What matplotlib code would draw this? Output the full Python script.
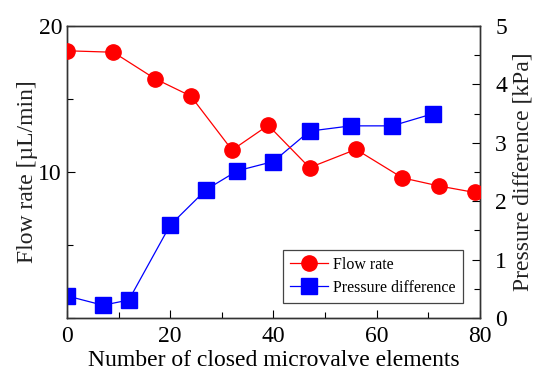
import matplotlib
matplotlib.use('Agg')
import matplotlib.pyplot as plt
from matplotlib.ticker import MultipleLocator

plt.rcParams['font.family'] = ['Liberation Serif', 'DejaVu Serif']

# flow rate (left axis)
flow_x = [0, 9, 17, 24, 32, 39, 47, 56, 65, 72, 79]
flow_y = [18.3, 18.2, 16.4, 15.2, 11.5, 13.2, 10.3, 11.55, 9.6, 9.05, 8.6]

# pressure difference (right axis)
pres_x = [0, 7, 12, 20, 27, 33, 40, 47, 55, 63, 71]
pres_y = [0.38, 0.22, 0.31, 1.59, 2.20, 2.52, 2.68, 3.20, 3.29, 3.29, 3.50]

fig = plt.figure(figsize=(5.35, 3.76), dpi=100)
ax1 = fig.add_axes([0.125, 0.154, 0.772, 0.777])
ax2 = ax1.twinx()

l1, = ax1.plot(flow_x, flow_y, '-o', color='#ff0000', linewidth=0.9,
               markersize=11, label='Flow rate', zorder=3)
l2, = ax2.plot(pres_x, pres_y, '-s', color='#0000ff', linewidth=0.9,
               markersize=11, label='Pressure difference', zorder=3)

ax1.set_xlim(0, 80)
ax1.set_ylim(0, 20)
ax2.set_ylim(0, 5)

ax1.set_xticks([0, 20, 40, 60, 80])
ax1.xaxis.set_minor_locator(MultipleLocator(10))
ax1.set_yticks([0, 10, 20])
ax1.set_yticklabels(['', '10', '20'])
ax1.yaxis.set_minor_locator(MultipleLocator(5))
ax2.set_yticks([0, 1, 2, 3, 4, 5])
ax2.yaxis.set_minor_locator(MultipleLocator(0.5))

for ax in (ax1, ax2):
    ax.tick_params(which='major', direction='in', length=6, width=0.8, labelsize=17)
    ax.tick_params(which='minor', direction='in', length=4, width=0.8)
    for s in ax.spines.values():
        s.set_linewidth(1.0)
        s.set_color('#333333')
ax1.tick_params(axis='y', which='both', right=False)
ax1.tick_params(axis='x', which='both', top=False, pad=6)
ax2.tick_params(axis='y', which='both', left=False, pad=11)

ax1.set_xlabel('Number of closed microvalve elements', fontsize=17, labelpad=2)
ax1.set_ylabel('Flow rate [µL/min]', fontsize=17, labelpad=0, color='#222222')
ax2.set_ylabel('Pressure difference [kPa]', fontsize=17, labelpad=4, color='#222222')

leg = ax1.legend(handles=[l1, l2], loc='lower right', bbox_to_anchor=(0.959, 0.051),
                 borderaxespad=0, fontsize=11.5, fancybox=False, framealpha=1,
                 edgecolor='#444444', handlelength=2.4, borderpad=0.45,
                 labelspacing=0.45, handletextpad=0.3)
leg.get_frame().set_linewidth(0.9)
ax1.set_zorder(ax2.get_zorder() + 1)
ax1.patch.set_visible(False)

fig.savefig('out.png', dpi=100, facecolor='white')
